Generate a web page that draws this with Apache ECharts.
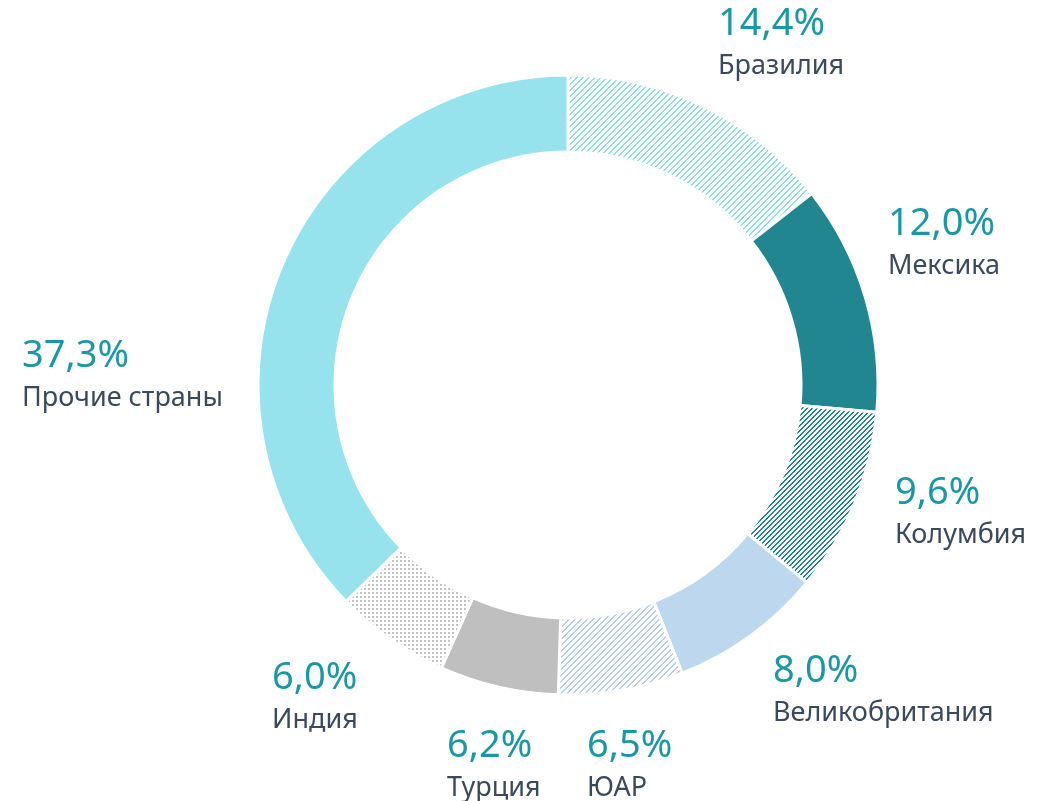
<!DOCTYPE html>
<html><head><meta charset="utf-8">
<script src="https://cdn.jsdelivr.net/npm/echarts@6/dist/echarts.min.js"></script>
<style>html,body{margin:0;padding:0;background:#fff}#c{width:1054px;height:801px}</style>
</head><body><div id="c"></div>
<script>
// Data
const categories = ['Бразилия','Мексика','Колумбия','Великобритания','ЮАР','Турция','Индия','Прочие страны'];
const shares = [14.4, 12.0, 9.6, 8.0, 6.5, 6.2, 6.0, 37.3];

// Label anchor (left x, vertical middle of two-line block)
const labelPos = [[718,45],[888,245],[895,514],[773,692],[587,767],[447,767],[272,699],[22,377]];

// pixel diagonal hatch "/" : tile n, line thickness w (pixels)
function hatch(color, n, w){
  const c = document.createElement('canvas');
  c.width = n; c.height = n;
  const g = c.getContext('2d');
  g.fillStyle = color;
  for (let y = 0; y < n; y++) {
    for (let k = 0; k < w; k++) {
      g.fillRect((n - 1 - y + k) % n, y, 1, 1);
    }
  }
  return {image: c, repeat: 'repeat'};
}
function dots(color, n, s){
  const c = document.createElement('canvas');
  c.width = n; c.height = n;
  const g = c.getContext('2d');
  g.fillStyle = color;
  g.fillRect(0, 0, s, s);
  return {image: c, repeat: 'repeat'};
}

const fills = [
  hatch('#8fdfea', 6, 2),
  '#21868f',
  hatch('#1f858f', 5, 2),
  '#bdd7ee',
  hatch('#b3d0ee', 6, 2),
  '#bfbfbf',
  dots('#c2c2c2', 4, 2),
  '#97e3ed'
];

const chart = echarts.init(document.getElementById('c'), null, {renderer:'canvas'});
chart.setOption({
  animation: false,
  series: [{
    type: 'pie',
    center: [568, 385],
    radius: [233, 310],
    startAngle: 90,
    clockwise: true,
    avoidLabelOverlap: false,
    itemStyle: {borderColor: '#fff', borderWidth: 3},
    label: {
      show: true,
      position: 'outside',
      formatter: p => '{p|' + p.value.toFixed(1).replace('.', ',') + '%}\n{n|' + p.name + '}',
      rich: {
        p: {fontFamily: 'Noto Sans', fontSize: 38, color: '#1a97a5', lineHeight: 42},
        n: {fontFamily: 'Noto Sans', fontSize: 27, color: '#3a4a5c', lineHeight: 42}
      }
    },
    labelLine: {show: false},
    labelLayout: params => {
      const p = labelPos[params.dataIndex];
      return {x: p[0], y: p[1], align: 'left', verticalAlign: 'middle'};
    },
    emphasis: {disabled: true},
    data: categories.map((n, i) => ({name: n, value: shares[i], itemStyle: {color: fills[i]}}))
  }]
});
</script></body></html>
